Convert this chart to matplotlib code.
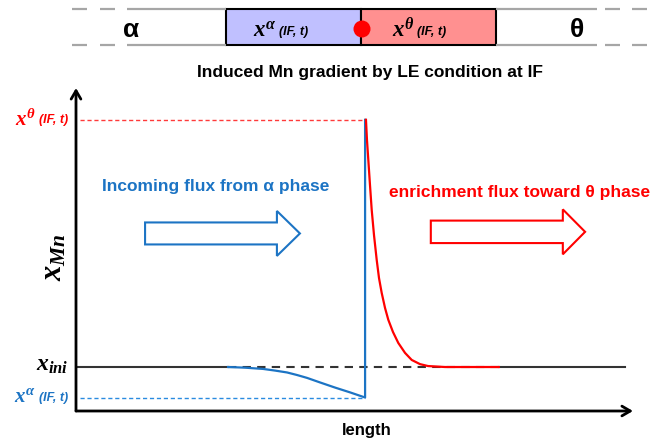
import matplotlib
matplotlib.use("Agg")
import matplotlib.pyplot as plt
from matplotlib.patches import FancyArrow, Rectangle, Circle

plt.rcParams['font.family'] = ['Liberation Sans', 'DejaVu Sans']
plt.rcParams['mathtext.fontset'] = 'custom'
plt.rcParams['mathtext.it'] = 'Liberation Serif:italic:bold'
plt.rcParams['mathtext.rm'] = 'Liberation Serif:bold'
plt.rcParams['mathtext.bf'] = 'Liberation Serif:bold'

# ---- data (arbitrary units: length 0..100, x_Mn 0..100) ----
x_ini = 13.7
x_alpha_IF = 4.2
x_theta_IF = 90.7
x_IF = 51.9

length_blue = [27.3, 30.3, 33.6, 35.7, 37.9, 39.7, 41.5, 43.8, 46.5, 49.2, 51.9, 51.9]
xmn_blue = [13.7, 13.5, 13.1, 12.6, 12.0, 11.2, 10.3, 8.9, 7.3, 5.8, 4.2, 90.7]

length_red = [52.06, 52.24, 52.48, 52.78, 53.09, 53.50, 53.99, 54.40, 54.88, 55.48,
              56.07, 56.91, 57.86, 59.07, 60.27, 61.76, 63.20, 66.25, 75.9]
xmn_red = [90.7, 84.4, 78.2, 70.4, 62.6, 54.8, 47.0, 41.4, 36.8, 32.1,
           28.4, 24.6, 21.2, 18.1, 15.9, 14.6, 14.0, 13.7, 13.7]

ini_solid_left = [0.0, 27.3]
ini_dashed = [27.3, 75.9]
ini_solid_right = [75.9, 98.6]

title_text = "Induced Mn gradient by LE condition at IF"
blue_text = "Incoming flux from \u03b1 phase"
red_text = "enrichment flux toward \u03b8 phase"

BLUE = '#1C74C4'
BLUE_D = '#2A8BE0'
RED = '#FF0000'
RED_D = '#FF3A3A'
DARK = '#333333'

W, H = 650, 443
fig = plt.figure(figsize=(W / 100, H / 100), dpi=100)

# overlay axes in pixel coordinates for the schematic
top = fig.add_axes([0, 0, 1, 1], zorder=0)
top.set_xlim(0, W)
top.set_ylim(H, 0)
top.axis('off')
top.patch.set_alpha(0)

gray = '#A6A6A6'
for yy in (9, 45):
    for x0, x1 in [(72, 87), (100, 115), (127, 226), (496, 597), (605, 620), (632, 647)]:
        top.plot([x0, x1], [yy, yy], color=gray, lw=1.6, solid_capstyle='butt')
top.add_patch(Rectangle((226, 9), 135, 36, facecolor='#C0C0FF', edgecolor='black', lw=1.5))
top.add_patch(Rectangle((361, 9), 135, 36, facecolor='#FF9090', edgecolor='black', lw=1.5))
top.add_patch(Circle((362, 29), 8.5, facecolor=RED, edgecolor='none', zorder=5))
top.text(131, 30, '\u03b1', fontsize=19, fontweight='bold', ha='center', va='center')
top.text(577, 30, '\u03b8', fontsize=19, fontweight='bold', ha='center', va='center')
top.text(277, 30, r'$x^{\alpha}$', fontsize=16.5, ha='right', va='center')
top.text(279, 32, '(IF, t)', fontsize=9, fontstyle='italic', fontweight='bold', ha='left', va='center')
top.text(415, 30, r'$x^{\theta}$', fontsize=16.5, ha='right', va='center')
top.text(417, 32, '(IF, t)', fontsize=9, fontstyle='italic', fontweight='bold', ha='left', va='center')
top.text(370, 72, title_text, fontsize=12.5, fontweight='bold', ha='center', va='center')

# main axes
ax = fig.add_axes([76 / W, (H - 411) / H, 557 / W, (411 - 88) / H], zorder=2)
ax.patch.set_alpha(0)
ax.set_xlim(0, 100)
ax.set_ylim(0, 100.6)
for s in ax.spines.values():
    s.set_visible(False)
ax.set_xticks([])
ax.set_yticks([])

arrow_kw = dict(arrowstyle='->,head_length=0.6,head_width=0.35', lw=2, color='black',
                shrinkA=0, shrinkB=0)
ax.annotate('', xy=(1, 0), xytext=(0, 0), xycoords='axes fraction', arrowprops=arrow_kw)
ax.annotate('', xy=(0, 1), xytext=(0, 0), xycoords='axes fraction', arrowprops=arrow_kw)

# reference levels
ax.plot([0.7, x_IF], [x_theta_IF, x_theta_IF], color=RED_D, lw=1, ls=(0, (3, 2)))
ax.plot([0.7, x_IF], [x_alpha_IF, x_alpha_IF], color=BLUE_D, lw=1, ls=(0, (3, 2)))
ax.plot(ini_solid_left, [x_ini, x_ini], color=DARK, lw=1.5)
ax.plot(ini_solid_right, [x_ini, x_ini], color=DARK, lw=1.5)
ax.plot(ini_dashed, [x_ini, x_ini], color=DARK, lw=1.5, ls=(0, (4, 3)))

# profiles
ax.plot(length_blue, xmn_blue, color=BLUE, lw=1.6, solid_joinstyle='round')
ax.plot(length_red, xmn_red, color=RED, lw=1.6, solid_joinstyle='round')

# flux arrows
ax.add_patch(FancyArrow(12.4, 55.3, 27.8, 0, width=6.85, head_width=14.0, head_length=4.13,
                        length_includes_head=True, facecolor='white', edgecolor=BLUE, lw=1.5))
ax.add_patch(FancyArrow(63.7, 55.8, 27.7, 0, width=7.0, head_width=14.0, head_length=4.0,
                        length_includes_head=True, facecolor='white', edgecolor=RED, lw=1.5))
ax.text(4.7, 69.8, blue_text, color=BLUE, fontsize=12.5, fontweight='bold', ha='left', va='center')
ax.text(56.2, 67.9, red_text, color=RED, fontsize=12.5, fontweight='bold', ha='left', va='center')

# left labels
ytr = ax.get_yaxis_transform()
def level_label(y, main, color):
    ax.annotate(main, xy=(0, y), xytext=(-40 * 0.72, 1 * 0.72),
                xycoords=ytr, textcoords='offset points', ha='right', va='center',
                color=color, fontsize=15)
    ax.annotate('(IF, t)', xy=(0, y), xycoords=ytr, xytext=(-8 * 0.72, 0),
                textcoords='offset points', ha='right', va='center', color=color,
                fontsize=9, fontstyle='italic', fontweight='bold')

level_label(x_theta_IF, r'$x^{\theta}$', RED)
level_label(x_alpha_IF, r'$x^{\alpha}$', BLUE)
ax.annotate(r'$x_{ini}$', xy=(0, x_ini), xycoords=ytr, xytext=(-8 * 0.72, 2 * 0.72),
            textcoords='offset points', ha='right', va='center', color='black', fontsize=17)

ax.text((53 - 76) / 557, (411 - 257) / 323, r'$x_{Mn}$', transform=ax.transAxes,
        rotation=90, ha='center', va='center', fontsize=22)
ax.text((367 - 76) / 557, (411 - 430) / 323, 'length', transform=ax.transAxes,
        ha='center', va='center', fontsize=12, fontweight='bold')

fig.savefig('out.png', dpi=100)
